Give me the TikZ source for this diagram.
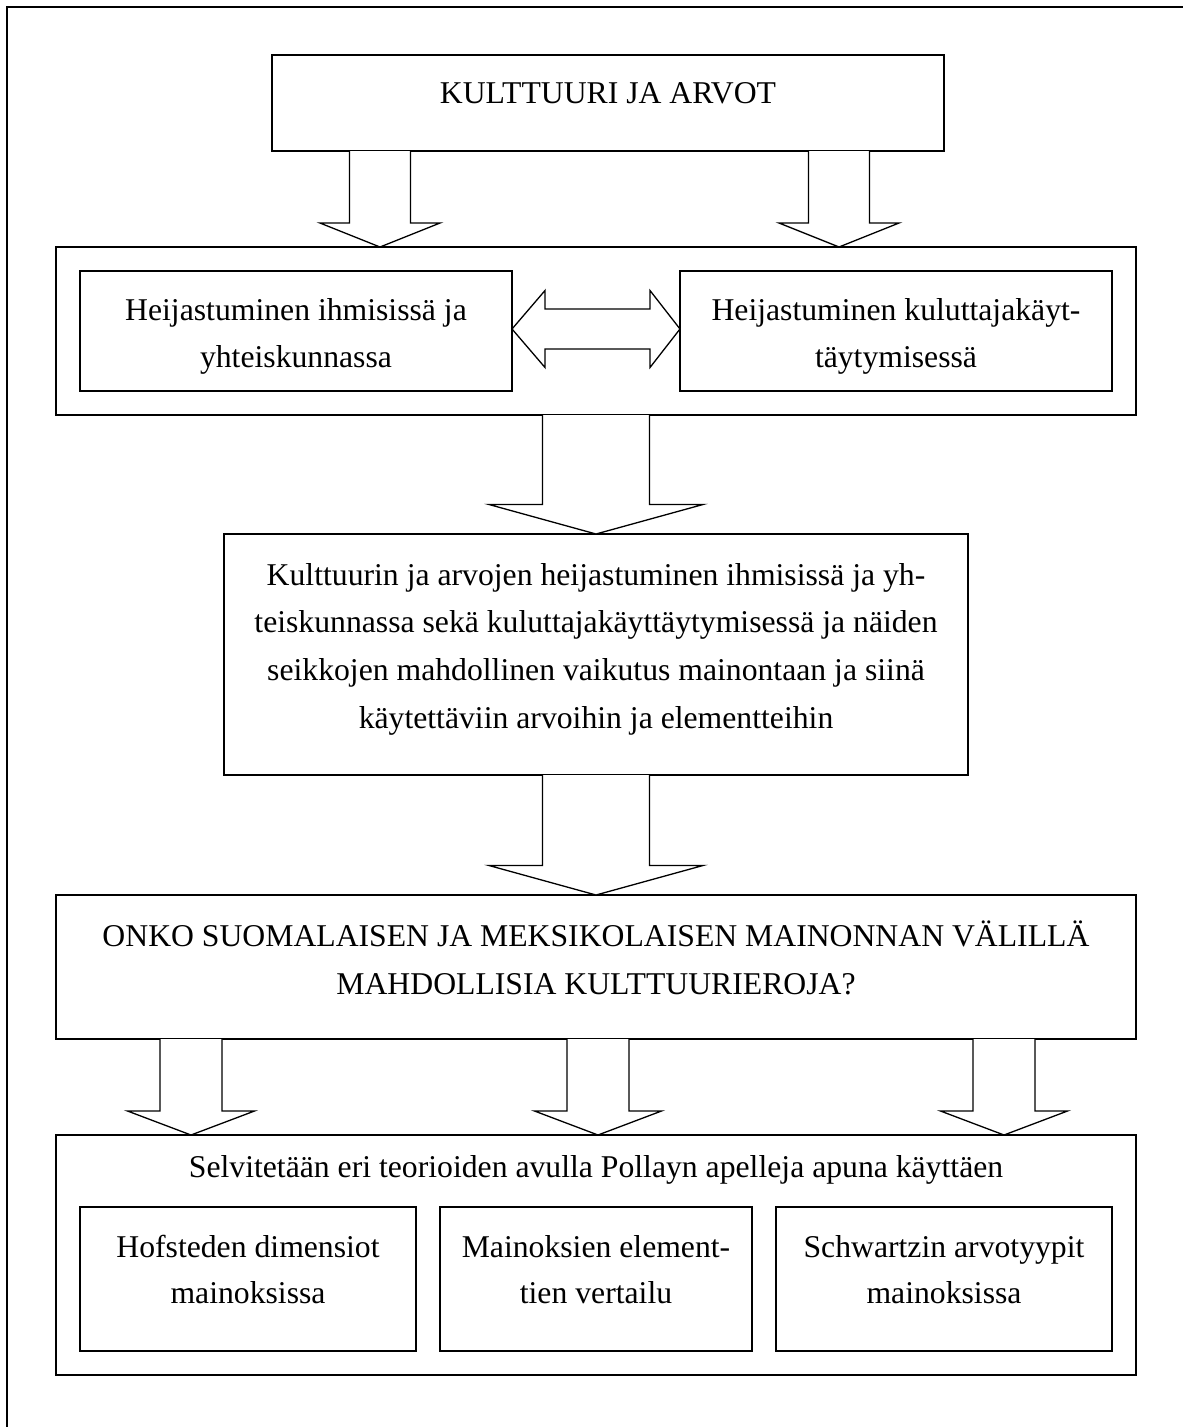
\documentclass[tikz,border=0pt]{standalone}
\usepackage{fontspec}
\setmainfont{Liberation Serif}
\usetikzlibrary{calc}
\tikzset{
  x=1pt, y=-1pt,
  box/.style={draw=black, line width=1.9pt, rectangle, inner sep=0pt, outer sep=0pt, anchor=north west},
  txt/.style={inner sep=0pt, outer sep=0pt, anchor=base, font=\fontsize{31.7}{47.5}\selectfont},
  blk/.style={draw=black, line width=1.3pt, line join=miter, fill=white},
  frameline/.style={draw=black, line width=2.4pt}
}
\newcommand\blkdown[5]{%
  \draw[blk] let \p1=(#1), \p2=(#2) in
    (\x1-#3pt,\y1) -- (\x1-#3pt,\y2+#5pt) -- (\x1-#4pt,\y2+#5pt) -- (\x1,\y2)
    -- (\x1+#4pt,\y2+#5pt) -- (\x1+#3pt,\y2+#5pt) -- (\x1+#3pt,\y1);}
\begin{document}
\begin{tikzpicture}
\useasboundingbox (0,0) rectangle (1183,1427);
% outer frame (cut at right and bottom)
\coordinate (fbl) at (7,1427);
\coordinate (ftl) at (7,7);
\coordinate (ftr) at (1183,7);
\draw[frameline] (fbl) -- (ftl) -- (ftr);

% boxes
\node[box, minimum width=672, minimum height=96] (title) at (272,55) {};
\node[box, minimum width=1080, minimum height=168] (box2) at (56,247) {};
\node[box, minimum width=432, minimum height=120] (hl) at (80,271) {};
\node[box, minimum width=432, minimum height=120] (hr) at (680,271) {};
\node[box, minimum width=744, minimum height=241] (mid) at (224,534) {};
\node[box, minimum width=1080, minimum height=144] (onko) at (56,895) {};
\node[box, minimum width=1080, minimum height=240] (bot) at (56,1135) {};
\node[box, minimum width=336, minimum height=144] (b1) at (80,1207) {};
\node[box, minimum width=312, minimum height=144] (b2) at (440,1207) {};
\node[box, minimum width=336, minimum height=144] (b3) at (776,1207) {};

% texts
\node[txt] (t0) at (608,103) {KULTTUURI JA ARVOT};
\node[txt] (hl1) at (296,320) {Heijastuminen ihmisissä ja};
\node[txt] (hl2) at (296,367) {yhteiskunnassa};
\node[txt] (hr1) at (896,320) {Heijastuminen kuluttajakäyt-};
\node[txt] (hr2) at (896,367) {täytymisessä};
\node[txt] (m1) at (596,585) {Kulttuurin ja arvojen heijastuminen ihmisissä ja yh-};
\node[txt] (m2) at (596,632) {teiskunnassa sekä kuluttajakäyttäytymisessä ja näiden};
\node[txt] (m3) at (596,680) {seikkojen mahdollinen vaikutus mainontaan ja siinä};
\node[txt] (m4) at (596,728) {käytettäviin arvoihin ja elementteihin};
\node[txt] (o1) at (596,946) {ONKO SUOMALAISEN JA MEKSIKOLAISEN MAINONNAN VÄLILLÄ};
\node[txt] (o2) at (596,994) {MAHDOLLISIA KULTTUURIEROJA?};
\node[txt] (s0) at (596,1177) {Selvitetään eri teorioiden avulla Pollayn apelleja apuna käyttäen};
\node[txt] (b11) at (248,1257) {Hofsteden dimensiot};
\node[txt] (b12) at (248,1303) {mainoksissa};
\node[txt] (b21) at (596,1257) {Mainoksien element-};
\node[txt] (b22) at (596,1303) {tien vertailu};
\node[txt] (b31) at (944,1257) {Schwartzin arvotyypit};
\node[txt] (b32) at (944,1303) {mainoksissa};

% block arrows
\blkdown{$(title.south)+(-228,0)$}{box2.north}{30.5}{60}{24}
\blkdown{$(title.south)+(231,0)$}{box2.north}{30.5}{60}{24}
\blkdown{box2.south}{mid.north}{53.5}{107}{29.5}
\blkdown{mid.south}{onko.north}{53.5}{107}{29.5}
\blkdown{$(onko.south)+(-405,0)$}{bot.north}{31}{63.5}{24}
\blkdown{$(onko.south)+(2,0)$}{bot.north}{31}{63.5}{24}
\blkdown{$(onko.south)+(408,0)$}{bot.north}{31}{63.5}{24}

% double arrow between the two reflection boxes
\draw[blk] let \p1=(hl.east), \p2=(hr.west) in
  (\x1,\y1+2pt) -- (\x1+33pt,\y1-36.5pt) -- (\x1+33pt,\y1-18pt) -- (\x2-30pt,\y1-18pt)
  -- (\x2-30pt,\y1-36.5pt) -- (\x2,\y1+2pt) -- (\x2-30pt,\y1+40.5pt) -- (\x2-30pt,\y1+22pt)
  -- (\x1+33pt,\y1+22pt) -- (\x1+33pt,\y1+40.5pt) -- cycle;
\end{tikzpicture}
\end{document}
